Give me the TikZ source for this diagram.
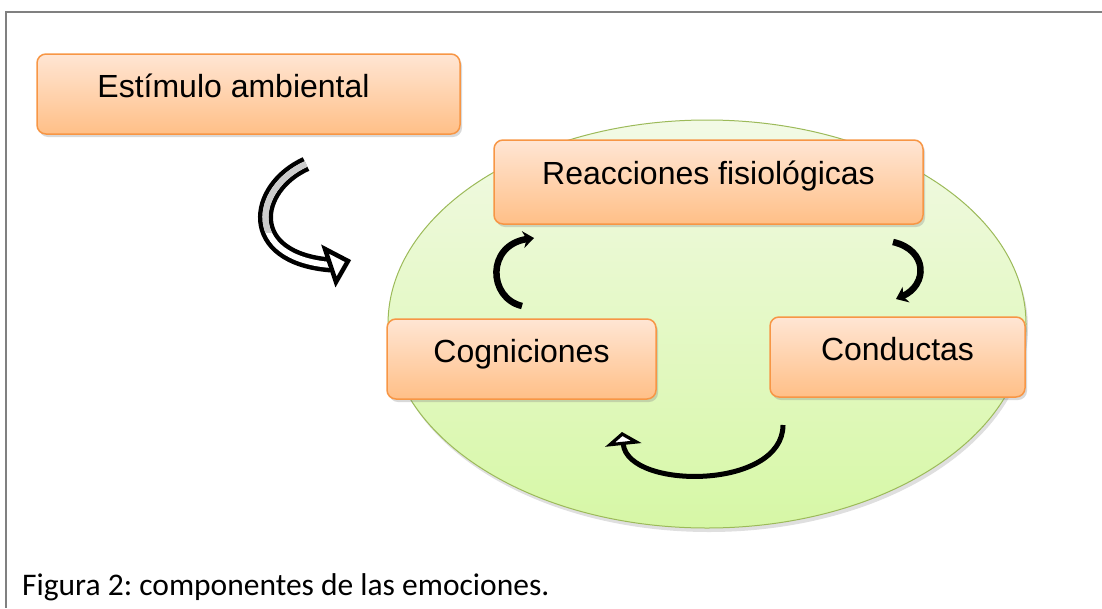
\documentclass[tikz,border=0pt]{standalone}
\usepackage{fontspec}
\setmainfont{Liberation Sans}
\newfontfamily\captionfont{Carlito}
\usetikzlibrary{shapes.geometric,shadows,arrows.meta}
\frenchspacing

\begin{document}
\begin{tikzpicture}[x=1pt,y=-1pt]
%
\definecolor{col_frame}{rgb}{0.5,0.5,0.5}
\definecolor{col_box_top}{rgb}{1.0,0.9,0.83}
\definecolor{col_box_bot}{rgb}{1.0,0.75,0.53}
\definecolor{col_box_line}{rgb}{0.97,0.59,0.27}
\definecolor{col_ell_top}{rgb}{0.95,0.98,0.9}
\definecolor{col_ell_bot}{rgb}{0.84,0.97,0.65}
\definecolor{col_ell_line}{rgb}{0.61,0.73,0.35}
\definecolor{col_twist}{rgb}{0.8,0.8,0.8}
%
\tikzset{
  box/.style={draw=col_box_line, line width=1.5pt, rounded corners=9pt,
    top color=col_box_top, bottom color=col_box_bot,
    drop shadow={shadow xshift=2pt, shadow yshift=-3pt, opacity=0.3},
    font=\fontsize{32}{38}\selectfont, inner sep=0pt,
    text height=43pt, text depth=37pt},
  ell/.style={ellipse, draw=col_ell_line, line width=1pt, inner sep=0pt,
    top color=col_ell_top, bottom color=col_ell_bot,
    drop shadow={shadow xshift=2pt, shadow yshift=-4pt, opacity=0.25}},
  loop/.style={line width=6.5pt, -{Stealth[length=11pt, width=17pt]}},
}
%
\useasboundingbox (0,0) rectangle (1102,608);
\draw[col_frame, line width=2pt] (1102,12) -- (6,12) -- (6,608);
%
\node[ell, minimum width=638pt, minimum height=408pt] (ambito) at (707,324) {};
%
\node[box, minimum width=423pt] (estimulo) at (248.5,94) {Estímulo ambiental\hspace*{30pt}};
\node[box, minimum width=429pt, text height=44pt, text depth=40pt] (reacciones) at (708.5,182) {Reacciones fisiológicas};
\node[box, minimum width=269pt] (cogniciones) at (521.5,359) {Cogniciones};
\node[box, minimum width=255pt] (conductas) at (897.5,357) {Conductas};
%
\coordinate (in_s) at (306,164);
\coordinate (in_e) at (331,265);
\coordinate (cog_s) at (522,306);
\coordinate (cog_e) at (534,238);
\coordinate (rea_s) at (893,242);
\coordinate (rea_e) at (896,299);
\coordinate (con_s) at (783,425);
\coordinate (con_e) at (622,432);
%
\draw[line width=15pt] (in_s) .. controls (253,188) and (243,258) .. (in_e);
\draw[white, line width=6pt] (in_s) .. controls (253,188) and (243,258) .. (in_e);
\begin{scope}
\clip (200,130) rectangle (360,232);
\draw[col_twist, line width=6pt] (in_s) .. controls (253,188) and (243,258) .. (in_e);
\end{scope}
\draw[line width=4.5pt, fill=white] (325,249) -- (348,261) -- (336,282) -- cycle;
%
\draw[loop] (cog_s) .. controls (488,298) and (486,245) .. (cog_e);
\draw[loop] (rea_s) .. controls (928,250) and (928,285) .. (rea_e);
\draw[line width=5pt, -{Triangle[length=13pt, width=36pt, fill=white]}]
  (con_s) .. controls (783,490) and (628,490) .. (con_e);
%
\node[anchor=base west, inner sep=0pt, font=\captionfont\fontsize{31.5}{36}\selectfont] (pie) at (22,595) {Figura 2: componentes de las emociones.};
%
\end{tikzpicture}
\end{document}
